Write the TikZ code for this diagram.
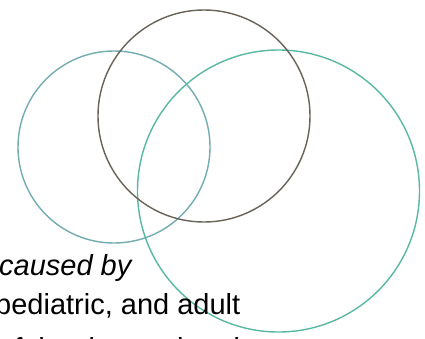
\documentclass[tikz,border=0pt]{standalone}
\usepackage{fontspec}
\setmainfont{Liberation Sans}
\definecolor{leftc}{RGB}{115,172,178}
\definecolor{rightc}{RGB}{88,184,162}
\definecolor{topc}{RGB}{105,98,88}
\begin{document}
\begin{tikzpicture}[x=1pt,y=-1pt,
  ring/.style={line width=1.4pt},
  txt/.style={anchor=base west,inner sep=0pt,font=\fontsize{29}{38}\selectfont}]
\useasboundingbox (0,0) rectangle (425,338);
\clip (0,0) rectangle (425,338);
\fill[white] (0,0) rectangle (425,338);
\draw[ring,leftc] (114,147) circle[radius=96];
\draw[ring,rightc] (278.5,191) circle[radius=141];
\draw[ring,topc] (204,116) circle[radius=106];
\node[txt,font=\fontsize{29}{38}\selectfont\itshape] (l1) at (-1,275) {caused by};
\node[txt] (l2) at (-5,314) {pediatric, and adult};
\node[txt] (l3) at (-2,358) {of the dose-related};
\end{tikzpicture}
\end{document}
